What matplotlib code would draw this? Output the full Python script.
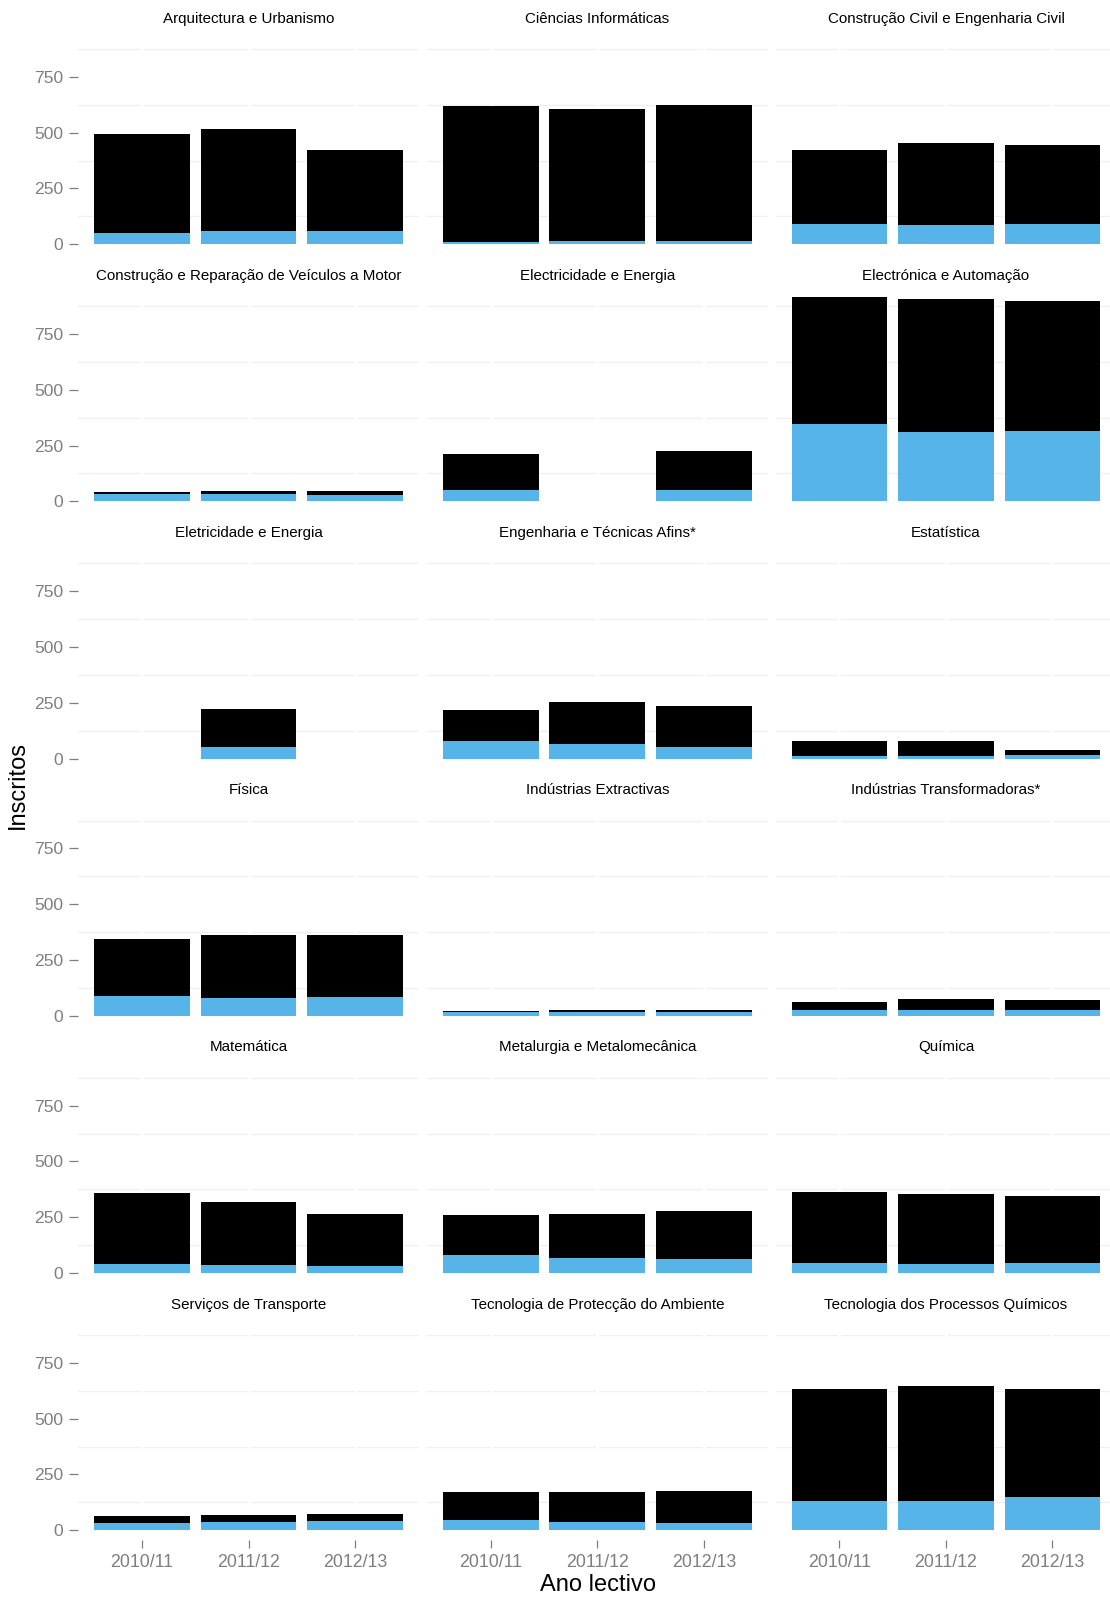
import numpy as np
import matplotlib
matplotlib.use("Agg")
import matplotlib.pyplot as plt

plt.rcParams["font.family"] = ["Liberation Sans", "DejaVu Sans"]

# Áreas de formação (painéis, por ordem de leitura)
areas = [
    "Arquitectura e Urbanismo",
    "Ciências Informáticas",
    "Construção Civil e Engenharia Civil",
    "Construção e Reparação de Veículos a Motor",
    "Electricidade e Energia",
    "Electrónica e Automação",
    "Eletricidade e Energia",
    "Engenharia e Técnicas Afins*",
    "Estatística",
    "Física",
    "Indústrias Extractivas",
    "Indústrias Transformadoras*",
    "Matemática",
    "Metalurgia e Metalomecânica",
    "Química",
    "Serviços de Transporte",
    "Tecnologia de Protecção do Ambiente",
    "Tecnologia dos Processos Químicos",
]

anos = ["2010/11", "2011/12", "2012/13"]

nan = np.nan
# Inscritos, segmento inferior (azul)
inscritos_azul = [
    [52, 61, 57],
    [12, 14, 14],
    [91, 86, 89],
    [35, 35, 30],
    [52, nan, 51],
    [348, 312, 317],
    [nan, 51, nan],
    [78, 65, 54],
    [10, 10, 16],
    [87, 78, 82],
    [16, 19, 19],
    [25, 28, 28],
    [42, 37, 31],
    [82, 67, 63],
    [46, 40, 43],
    [31, 36, 39],
    [45, 36, 33],
    [133, 133, 147],
]

# Inscritos, segmento superior (preto)
inscritos_preto = [
    [441, 457, 363],
    [607, 591, 609],
    [331, 367, 357],
    [5, 10, 15],
    [162, nan, 176],
    [568, 593, 581],
    [nan, 170, nan],
    [139, 188, 181],
    [69, 68, 24],
    [256, 282, 281],
    [4, 6, 6],
    [39, 47, 43],
    [315, 283, 233],
    [178, 199, 215],
    [315, 312, 302],
    [32, 30, 33],
    [128, 136, 143],
    [499, 514, 484],
]

y_ticks = [0, 250, 500, 750]
y_minor = [125, 375, 625, 875]

AZUL = "#56B4E9"
CINZA = "#7F7F7F"

W, H = 1110, 1600
fig = plt.figure(figsize=(W / 100, H / 100), dpi=100)
fig.patch.set_facecolor("white")

ncol, nrow = 3, 6
col_left = [78.1, 426.9, 775.6]
panel_w = 340.8
row_top0 = 29.6
row_pitch = 257.2
panel_h = 224.8

azul = np.array(inscritos_azul, dtype=float)
preto = np.array(inscritos_preto, dtype=float)
totais = np.nansum(np.stack([azul, preto]), axis=0)
ymax = np.nanmax(totais)
ylim = (-0.05 * ymax, 1.05 * ymax)
x = np.arange(len(anos))

for i, area in enumerate(areas):
    r, c = divmod(i, ncol)
    top = row_top0 + r * row_pitch
    ax = fig.add_axes([col_left[c] / W, 1 - (top + panel_h) / H,
                       panel_w / W, panel_h / H])
    ax.set_xlim(-0.6, len(anos) - 0.4)
    ax.set_ylim(*ylim)
    for s in ax.spines.values():
        s.set_visible(False)

    # grelha: linhas menores cinzentas, maiores brancas por cima
    for yv in y_minor:
        ax.axhline(yv, color="#F0F0F0", lw=1.0, zorder=0)
    for xv in x:
        ax.axvline(xv, color="white", lw=2.2, zorder=0.5)

    ok = ~np.isnan(azul[i])
    ax.bar(x[ok], azul[i][ok], width=0.9, color=AZUL, linewidth=0, zorder=2)
    ax.bar(x[ok], preto[i][ok], bottom=azul[i][ok], width=0.9,
           color="black", linewidth=0, zorder=2)

    ax.set_yticks(y_ticks)
    ax.set_xticks(x)
    ax.tick_params(axis="y", length=6.5, width=0.9, color=CINZA, pad=4.3,
                   labelsize=12.6, labelcolor=CINZA)
    ax.tick_params(axis="x", length=5.6, width=0.9, color=CINZA, pad=4.5,
                   labelsize=12.8, labelcolor=CINZA)
    if c == 0:
        ax.set_yticklabels([str(v) for v in y_ticks])
    else:
        ax.tick_params(axis="y", left=False, labelleft=False)
    if r == nrow - 1:
        ax.set_xticklabels(anos)
    else:
        ax.tick_params(axis="x", bottom=False, labelbottom=False)

    fig.text((col_left[c] + panel_w / 2) / W, 1 - (top - 6.9) / H, area,
             ha="center", va="baseline", fontsize=10.9, color="black")

fig.text(597.5 / W, 1 - 1585 / H, "Ano lectivo", ha="center", va="center",
         fontsize=17, color="black")
fig.text(18 / W, 1 - 785 / H, "Inscritos", ha="center", va="center",
         rotation=90, fontsize=17, color="black")

fig.savefig("out.png", dpi=100, facecolor="white")
